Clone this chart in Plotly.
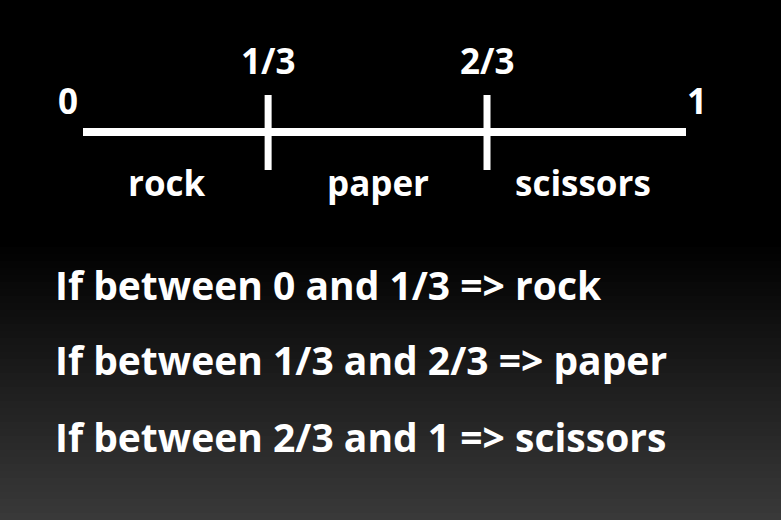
import plotly.graph_objects as go

tick_pos = [0.0, 0.307, 0.67, 1.0]
tick_labels = ["0", "1/3", "2/3", "1"]
segments = ["rock", "paper", "scissors"]
segment_pos = [0.14, 0.49, 0.83]
rules = ["If between 0 and 1/3 => rock",
         "If between 1/3 and 2/3 => paper",
         "If between 2/3 and 1 => scissors"]

W, H = 781, 520
x0px, x1px = 83, 686
scale = x1px - x0px
xr = [-x0px / scale, (W - x0px) / scale]

fig = go.Figure()
FONT = "Open Sans"
fig.add_trace(go.Scatter(x=[tick_pos[0], tick_pos[-1]], y=[132, 132], mode="lines",
                         line=dict(color="white", width=8), hoverinfo="skip"))
for t in tick_pos[1:-1]:
    fig.add_trace(go.Scatter(x=[t, t], y=[95, 170], mode="lines",
                             line=dict(color="white", width=7), hoverinfo="skip"))

ann = []
for t, lab in zip(tick_pos, tick_labels):
    if lab in ("0", "1"):
        xx = t - 0.025 if lab == "0" else t + 0.018
        ann.append(dict(x=xx, y=100, text=lab))
    else:
        ann.append(dict(x=t, y=60, text=lab))
for p, s in zip(segment_pos, segments):
    ann.append(dict(x=p, y=182, text=s))
annotations = [dict(a, xref="x", yref="y", showarrow=False,
                    font=dict(family=FONT, size=35, color="white", weight="bold"))
               for a in ann]
for i, r in enumerate(rules):
    annotations.append(dict(x=(53 - x0px) / scale, y=[284, 359, 436][i], text=r,
                            xanchor="left", xref="x", yref="y", showarrow=False,
                            font=dict(family=FONT, size=39, color="white", weight="bold")))

shapes = []
n = 40
top = 240
for i in range(n):
    ya = top + (H - top) * i / n
    yb = top + (H - top) * (i + 1) / n
    c = int(58 * (i + 0.5) / n)
    shapes.append(dict(type="rect", xref="paper", yref="y", x0=0, x1=1, y0=ya, y1=yb,
                       fillcolor=f"rgb({c},{c},{c})", line=dict(width=0), layer="below"))

fig.update_layout(width=W, height=H, margin=dict(l=0, r=0, t=0, b=0),
                  paper_bgcolor="black", plot_bgcolor="black", showlegend=False,
                  xaxis=dict(range=xr, visible=False, fixedrange=True),
                  yaxis=dict(range=[H, 0], visible=False, fixedrange=True),
                  annotations=annotations, shapes=shapes)
fig.write_html("out.html", config={"displayModeBar": False},
               post_script="document.body.style.margin='0';document.body.style.background='black';")
